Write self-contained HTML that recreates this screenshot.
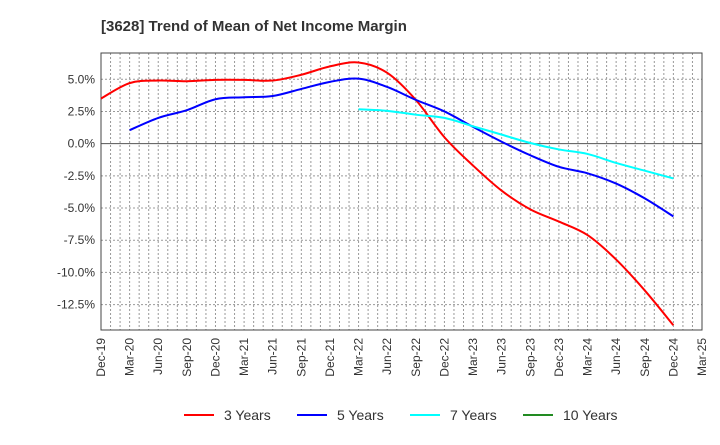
<!DOCTYPE html>
<html><head><meta charset="utf-8"><style>
body{margin:0;background:#fff;font-family:"Liberation Sans",Arial,sans-serif;}
</style></head><body>
<svg id="chart" width="720" height="440" xmlns="http://www.w3.org/2000/svg">
<text x="101" y="31" font-size="15" font-weight="bold" fill="#333">[3628]  Trend of Mean of Net Income Margin</text>
<g id="grid"></g><g id="axes"></g><g id="series"></g><g id="legend"></g>
</svg>
<script>
const xLabels=["Dec-19","Mar-20","Jun-20","Sep-20","Dec-20","Mar-21","Jun-21","Sep-21","Dec-21","Mar-22","Jun-22","Sep-22","Dec-22","Mar-23","Jun-23","Sep-23","Dec-23","Mar-24","Jun-24","Sep-24","Dec-24","Mar-25"];
const yTicks=[5,2.5,0,-2.5,-5,-7.5,-10,-12.5];
const yTickLabels=["5.0%","2.5%","0.0%","-2.5%","-5.0%","-7.5%","-10.0%","-12.5%"];
const seriesNames=["3 Years","5 Years","7 Years","10 Years"];
const seriesColors=["#ff0000","#0000ff","#00ffff","#228b22"];
const y3=[3.5,4.7,4.9,4.85,4.95,4.95,4.9,5.35,6.0,6.3,5.5,3.4,0.5,-1.7,-3.65,-5.1,-6.05,-7.1,-9.0,-11.4,-14.1];
const y5=[null,1.05,2.0,2.6,3.45,3.6,3.7,4.25,4.8,5.05,4.4,3.4,2.5,1.3,0.15,-0.9,-1.8,-2.3,-3.1,-4.25,-5.65];
const y7=[null,null,null,null,null,null,null,null,null,2.67,2.55,2.25,2.0,1.35,0.7,0.05,-0.45,-0.8,-1.5,-2.1,-2.7];
const y10=[];
const L=101,R=702,T=53,B=330,yMax=7.04,yMin=-14.47;
const NS="http://www.w3.org/2000/svg";
const xS=i=>L+(R-L)*i/21;
const yS=v=>T+(B-T)*(yMax-v)/(yMax-yMin);
function mk(tag,attrs,parent){const e=document.createElementNS(NS,tag);for(const k in attrs)e.setAttribute(k,attrs[k]);parent.appendChild(e);return e;}
const grid=document.getElementById('grid'),axes=document.getElementById('axes'),ser=document.getElementById('series'),leg=document.getElementById('legend');
for(let m=1;m<63;m++){const x=L+(R-L)*m/63;const ln=mk('line',{x1:x,x2:x,y1:T,y2:B,stroke:'#999','stroke-dasharray':'2,2','stroke-width':1},grid);

}
yTicks.forEach((v,i)=>{const y=yS(v);const ln=mk('line',{x1:L,x2:R,y1:y,y2:y,stroke:v===0?'#555':'#999','stroke-dasharray':v===0?'':'2,2','stroke-width':1},grid);


const t=mk('text',{x:L-6,y:y+4,'text-anchor':'end','font-size':12,fill:'#333'},axes);t.textContent=yTickLabels[i];

});
const fr=mk('rect',{x:L,y:T,width:R-L,height:B-T,fill:'none',stroke:'#444','stroke-width':1},axes);


xLabels.forEach((s,i)=>{const x=xS(i);const t=mk('text',{transform:`translate(${x+4},${B+8}) rotate(-90)`,'text-anchor':'end','font-size':12,fill:'#333'},axes);t.textContent=s;

});
function path(vals){const pts=[];vals.forEach((v,i)=>{if(v!==null&&v!==undefined)pts.push([xS(i),yS(v)]);});if(pts.length<2)return '';
let d=`M${pts[0][0]},${pts[0][1]}`;for(let i=0;i<pts.length-1;i++){const p0=pts[i-1]||pts[i],p1=pts[i],p2=pts[i+1],p3=pts[i+2]||p2;
d+=` C${p1[0]+(p2[0]-p0[0])/6},${p1[1]+(p2[1]-p0[1])/6} ${p2[0]-(p3[0]-p1[0])/6},${p2[1]-(p3[1]-p1[1])/6} ${p2[0]},${p2[1]}`;}return d;}
[y3,y5,y7,y10].forEach((vals,k)=>{const d=path(vals);if(!d)return;const p=mk('path',{d:d,fill:'none',stroke:seriesColors[k],'stroke-width':2},ser);

});
const lx=[184,297,410,523];
seriesNames.forEach((n,k)=>{const g=mk('g',{},leg);


mk('line',{x1:lx[k],x2:lx[k]+30,y1:415,y2:415,stroke:seriesColors[k],'stroke-width':2},g);
const t=mk('text',{x:lx[k]+40,y:420,'font-size':14,fill:'#333'},g);t.textContent=n;});
</script>
</body></html>
